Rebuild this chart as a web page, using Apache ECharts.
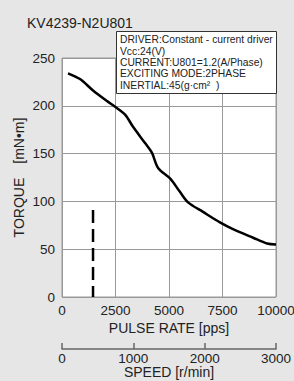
<!DOCTYPE html>
<html>
<head>
<meta charset="utf-8">
<script src="https://cdn.jsdelivr.net/npm/echarts@6/dist/echarts.min.js"></script>
<style>
  html, body { margin: 0; padding: 0; background: #e6e6e6; }
  #chart { width: 294px; height: 381px; }
</style>
</head>
<body>
<div id="chart"></div>
<script>
  // torque curve: [pulse rate (pps), torque (mN·m)]
  var pulseRate = [280, 840, 1450, 2100, 2480, 2940, 3320, 3880, 4200, 4490, 5050, 5510, 5890, 6590, 7380, 7990, 8930, 9580, 10000]
  var torque = [234, 228, 216, 205, 199, 191, 178, 161, 151, 135, 124, 110, 99, 89, 78, 71, 62, 56, 55]
  // start-up limit (dashed)
  var limitRate = [1450, 1450]
  var limitTorque = [91, 0]

  var pulseTicks = [0, 2500, 5000, 7500, 10000]
  var speedTicks = [0, 1000, 2000, 3000]
  var torqueTicks = [0, 50, 100, 150, 200, 250]

  var driverInfo = [
    'DRIVER:Constant - current driver',
    'Vcc:24(V)',
    'CURRENT:U801=1.2(A/Phase)',
    'EXCITING MODE:2PHASE',
    'INERTIAL:45(g·cm²  )'
  ]

  var font = 'Liberation Sans, Arial, sans-serif'
  var chart = echarts.init(document.getElementById('chart'), null, { renderer: 'svg' })

  var curve = pulseRate.map(function (x, i) { return [x, torque[i]] })
  var limit = limitRate.map(function (x, i) { return [x, limitTorque[i]] })
  var plain = function (v) { return String(v) }

  chart.setOption({
    backgroundColor: '#e6e6e6',
    animation: false,
    title: [{
      text: 'KV4239-N2U801',
      left: 22,
      top: 11,
      textStyle: { fontFamily: font, fontSize: 14, fontWeight: 'normal', color: '#222' }
    }, {
      text: driverInfo.join('\n'),
      left: 116,
      top: 31,
      z: 10,
      backgroundColor: '#fff',
      borderColor: '#333',
      borderWidth: 1,
      padding: [3, 4, 3, 4],
      textStyle: { fontFamily: font, fontSize: 10.3, fontWeight: 'normal', color: '#222', lineHeight: 11.4 }
    }],
    grid: {
      left: 62,
      right: 18,
      top: 58,
      bottom: 84,
      outerBoundsMode: 'none',
      show: true,
      backgroundColor: '#fff',
      borderColor: '#999',
      borderWidth: 1
    },
    xAxis: [{
      type: 'value',
      min: pulseTicks[0],
      max: pulseTicks[pulseTicks.length - 1],
      interval: 2500,
      name: 'PULSE RATE [pps]',
      nameLocation: 'middle',
      nameGap: 24,
      nameMoveOverlap: false,
      nameTextStyle: { fontFamily: font, fontSize: 14, color: '#222' },
      axisLine: { show: false },
      axisTick: { show: false },
      axisLabel: { fontFamily: font, fontSize: 13.5, color: '#222', margin: 6, formatter: plain },
      splitLine: { show: true, lineStyle: { color: '#999', width: 1 } }
    }, {
      type: 'value',
      position: 'bottom',
      offset: 52,
      min: speedTicks[0],
      max: speedTicks[speedTicks.length - 1],
      interval: 1000,
      name: 'SPEED [r/min]',
      nameLocation: 'middle',
      nameGap: 16,
      nameMoveOverlap: false,
      nameTextStyle: { fontFamily: font, fontSize: 14, color: '#222' },
      axisLine: { show: true, lineStyle: { color: '#666', width: 1.5 } },
      axisTick: { show: true, inside: true, length: 6, lineStyle: { color: '#666', width: 1.5 } },
      axisLabel: { fontFamily: font, fontSize: 13.5, color: '#222', margin: 2, formatter: plain },
      splitLine: { show: false }
    }],
    yAxis: {
      type: 'value',
      min: torqueTicks[0],
      max: torqueTicks[torqueTicks.length - 1],
      interval: 50,
      name: 'TORQUE　[mN•m]',
      nameLocation: 'middle',
      nameGap: 36,
      nameMoveOverlap: false,
      nameTextStyle: { fontFamily: font, fontSize: 14, color: '#222' },
      axisLine: { show: false },
      axisTick: { show: false },
      axisLabel: { fontFamily: font, fontSize: 13.5, color: '#222', margin: 7, formatter: plain },
      splitLine: { show: true, lineStyle: { color: '#999', width: 1 } }
    },
    series: [{
      type: 'line',
      data: curve,
      smooth: 0.3,
      symbol: 'none',
      lineStyle: { color: '#000', width: 2.5 }
    }, {
      type: 'line',
      data: limit,
      symbol: 'none',
      lineStyle: { color: '#000', width: 2.5, type: [13, 6] }
    }]
  })
</script>
</body>
</html>
